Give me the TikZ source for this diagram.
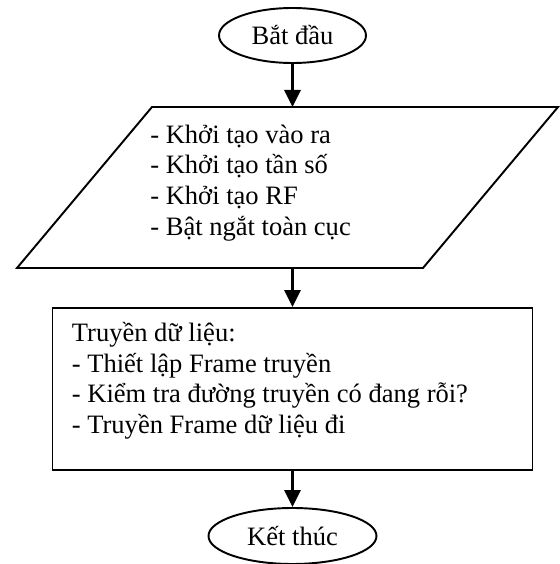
\documentclass[tikz,border=0pt]{standalone}
\usepackage{fontspec}
\setmainfont{Liberation Serif}
\usepackage{tikz}
\usetikzlibrary{positioning}
\usetikzlibrary{shapes.geometric,arrows.meta}

\begin{document}
\begin{tikzpicture}[
	flowline/.style={line width=1.1pt},
	flowarrow/.style={line width=1.8pt, -{Triangle[width=0.32cm,length=0.34cm]}},
	flowtext/.style={font=\fontsize{15.1}{17.4}\selectfont, align=left, inner sep=0pt},
	terminal/.style={ellipse, draw, flowline, flowtext}
]

	% Proper size --- Bounding box
	\useasboundingbox (0.00cm, 0.00cm) rectangle (11.20cm, 11.28cm);

	% Start
	\node[terminal, minimum width=2.94cm, minimum height=1.10cm] (Start) at (5.85cm, 10.57cm) {Bắt đầu};

	% Initialisation --- the four corners of the parallelogram
	\coordinate (P0) at (3.04cm, 9.14cm);
	\coordinate (P1) at (11.16cm, 9.14cm);
	\coordinate (P2) at (8.46cm, 5.92cm);
	\coordinate (P3) at (0.34cm, 5.92cm);
	\draw[flowline, line join=miter] (P0) -- (P1) -- (P2) -- (P3) -- cycle;

	% where the arrows meet it
	\coordinate (Pin) at (5.85cm, 9.14cm);
	\coordinate (Pout) at (5.85cm, 5.92cm);

	\node[flowtext, anchor=north west] (Init) at (3.00cm, 8.79cm)
		{- Khởi tạo vào ra\\- Khởi tạo tần số\\- Khởi tạo RF\\- Bật ngắt toàn cục};

	% Sending the data
	\node[draw, flowline, minimum width=9.60cm, minimum height=3.24cm] (Send) at (5.85cm, 3.50cm) {};
	\node[flowtext, anchor=north west] (SendText) at ([xshift=0.40cm, yshift=-0.30cm]Send.north west)
		{Truyền dữ liệu:\\- Thiết lập Frame truyền\\- Kiểm tra đường truyền có đang rỗi?\\- Truyền Frame dữ liệu đi};

	% End
	\node[terminal, minimum width=3.36cm, minimum height=1.12cm] (Stop) at (5.85cm, 0.56cm) {Kết thúc};

	% Connectors
	\draw[flowarrow] (Start) -- (Pin);
	\draw[flowarrow] (Pout) -- (Send);
	\draw[flowarrow] (Send) -- (Stop);

\end{tikzpicture}
\end{document}
